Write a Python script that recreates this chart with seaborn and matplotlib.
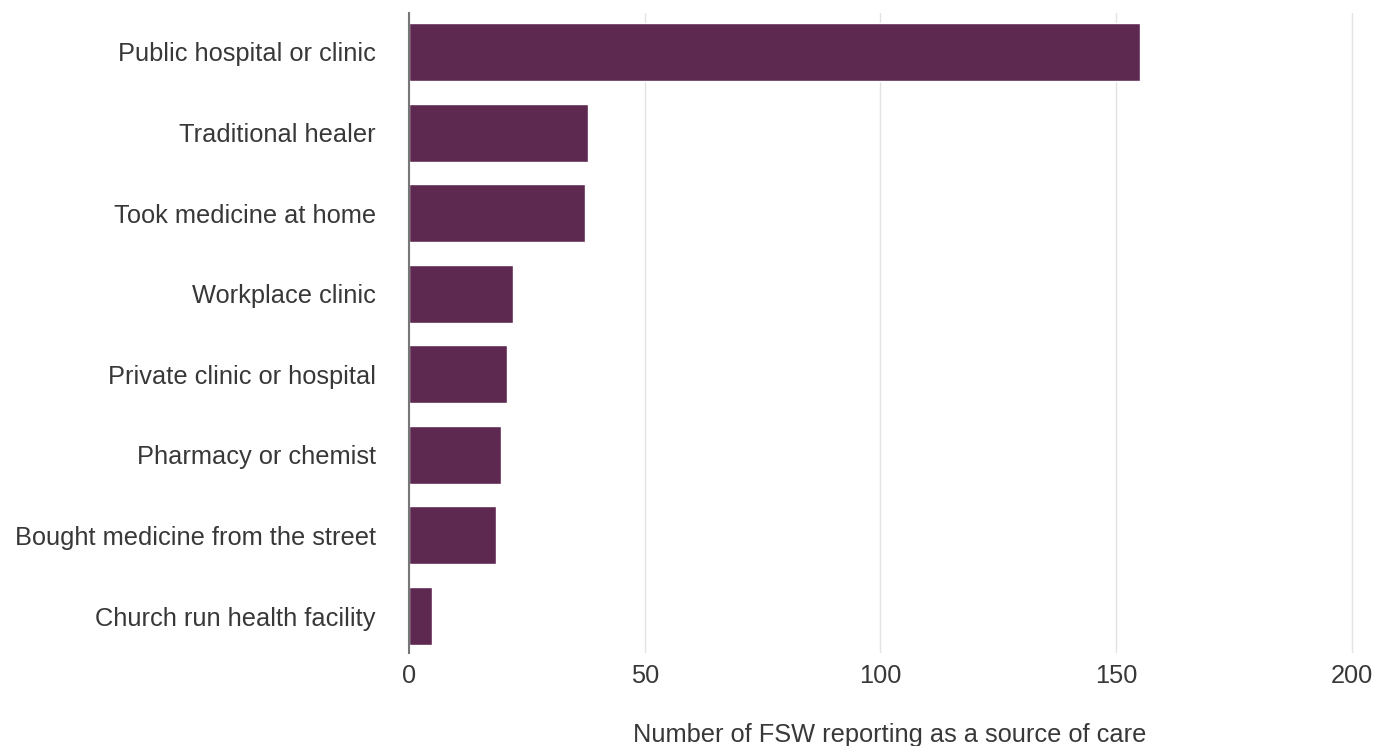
import pandas as pd
import numpy as np
import matplotlib.pyplot as plt
import seaborn as sns

# Sources of care and counts
sources = [
    "Public hospital or clinic",
    "Traditional healer",
    "Took medicine at home",
    "Workplace clinic",
    "Private clinic or hospital",
    "Pharmacy or chemist",
    "Bought medicine from the street",
    "Church run health facility",
]
counts = [155, 38, 37.3, 22, 20.7, 19.5, 18.4, 4.8]
x_ticks = [0, 50, 100, 150, 200]

df = pd.DataFrame({"source": sources, "count": counts})

sns.set_theme(style="white")
plt.rcParams['font.family'] = ['Liberation Sans', 'DejaVu Sans']
text_color = "#383838"

fig = plt.figure(figsize=(13.76, 7.46), dpi=100)
# plot area runs a little past the 200 gridline
ax = fig.add_axes([409 / 1376, 1 - 653 / 746, (1370 - 409) / 1376, 640 / 746])

sns.barplot(data=df, y="source", x="count", color="#5e2951", width=0.72,
            saturation=1, ax=ax, zorder=3)

ax.set_xlim(0, 200 * (1370 - 409) / (1352 - 409))
ax.set_ylim(7.459, -0.484)
ax.set_xticks(x_ticks)
ax.xaxis.grid(True, color="#e3e3e3", linewidth=1, zorder=0)
ax.yaxis.grid(False)

for side in ["top", "right", "bottom"]:
    ax.spines[side].set_visible(False)
ax.spines["left"].set_color("#777777")
ax.spines["left"].set_linewidth(1.5)
ax.spines["left"].set_zorder(4)

ax.tick_params(axis="y", length=0, pad=24, labelsize=18.3, labelcolor=text_color)
ax.tick_params(axis="x", length=0, pad=8, labelsize=18.3, labelcolor=text_color)

ax.set_ylabel("")
ax.set_xlabel("Number of FSW reporting as a source of care", fontsize=18.3,
              color=text_color)
ax.xaxis.set_label_coords(0.5, -0.11)

fig.savefig("out.png", dpi=100)
